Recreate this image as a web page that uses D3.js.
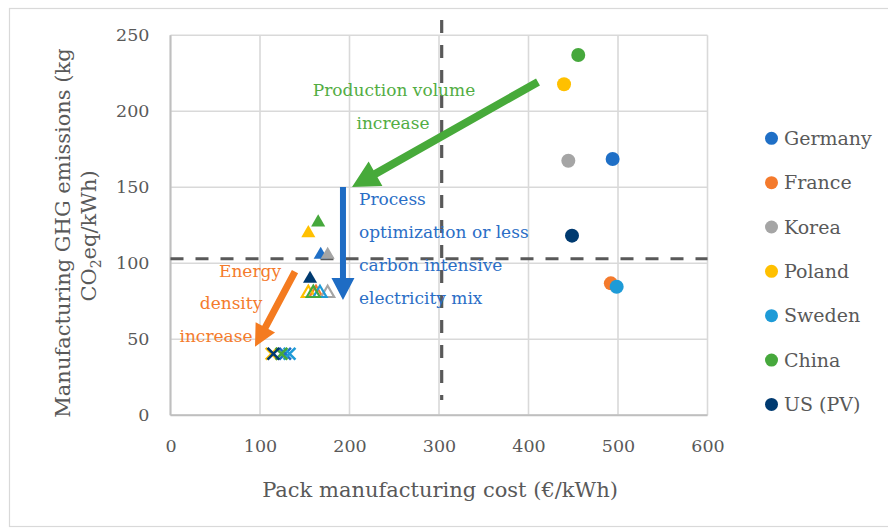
<!DOCTYPE html>
<html>
<head>
<meta charset="utf-8">
<script src="https://cdn.jsdelivr.net/npm/d3@7"></script>
<style>
  html, body { margin: 0; padding: 0; background: #fff; }
  svg { display: block; font-family: "DejaVu Serif", serif; }
</style>
</head>
<body>
<svg id="chart" width="888" height="529"></svg>
<script>
// ---- data ----
const countries = ["Germany", "France", "Korea", "Poland", "Sweden", "China", "US (PV)"];
const countryColors = ["#1f6fc6", "#f47a2c", "#a5a5a5", "#ffc000", "#1e9bd7", "#46a83c", "#003a70"];

// Current pack manufacturing (circles)
const currentCost = [494, 492, 444.5, 439.7, 498.5, 455.6, 448.6];
const currentGhg  = [168.6, 86.8, 167.5, 217.8, 84.6, 237, 118.2];

// Higher production volume (filled triangles)
const volumeCost = [167.8, null, 175.6, 154, null, 165, 155.9];
const volumeGhg  = [105.6, null, 105.6, 119.8, null, 126.9, 89.8];

// Process optimization / cleaner electricity (open triangles)
const processCost = [null, 162.6, 175.6, 154, 167, 159.6, null];
const processGhg  = [null, 80.3, 80.3, 80.3, 80.3, 80.3, null];

// Energy density increase (crosses)
const densityCost = [128, null, null, 113, 133, 124, 115];
const densityGhg  = [40.5, null, null, 40.5, 40.5, 40.5, 40.5];

const xTicks = [0, 100, 200, 300, 400, 500, 600];
const yTicks = [0, 50, 100, 150, 200, 250];

const costThreshold = 303;   // vertical reference line
const ghgThreshold = 103;    // horizontal reference line

// ---- layout ----
const svg = d3.select("#chart");
const x = d3.scaleLinear().domain([0, 600]).range([170.5, 707.5]);
const y = d3.scaleLinear().domain([0, 250]).range([415.3, 35.3]);

const grey = "#595959";

// outer chart frame
svg.append("rect")
  .attr("x", 9.5).attr("y", 8.5).attr("width", 890).attr("height", 518)
  .attr("fill", "#fff").attr("stroke", "#d9d9d9").attr("stroke-width", 1.2);

// gridlines
const grid = svg.append("g");
grid.selectAll("line.v").data(xTicks).join("line")
  .attr("x1", d => x(d)).attr("x2", d => x(d))
  .attr("y1", y(0)).attr("y2", y(250))
  .attr("stroke", "#d9d9d9").attr("stroke-width", 1.6);
grid.selectAll("line.h").data(yTicks).join("line")
  .attr("x1", x(0)).attr("x2", x(600))
  .attr("y1", d => y(d)).attr("y2", d => y(d))
  .attr("stroke", "#d9d9d9").attr("stroke-width", 1.6);

// axis lines
svg.append("line").attr("x1", x(0)).attr("x2", x(0)).attr("y1", y(0)).attr("y2", y(250))
  .attr("stroke", "#bfbfbf").attr("stroke-width", 2);
svg.append("line").attr("x1", x(0)).attr("x2", x(600)).attr("y1", y(0)).attr("y2", y(0))
  .attr("stroke", "#bfbfbf").attr("stroke-width", 2);

// tick labels through d3 axes
const xAxis = svg.append("g").attr("transform", `translate(0,${y(0) + 24})`)
  .call(d3.axisBottom(x).tickValues(xTicks).tickSize(0).tickPadding(0));
const yAxis = svg.append("g").attr("transform", `translate(${x(0) - 21},0)`)
  .call(d3.axisLeft(y).tickValues(yTicks).tickSize(0).tickPadding(0));
[xAxis, yAxis].forEach(a => {
  a.select(".domain").remove();
  a.selectAll("text").attr("fill", grey).style("font-family", "'DejaVu Serif', serif").style("font-size", "17.5px");
});
xAxis.selectAll("text").attr("dy", "0.71em");

// axis titles
svg.append("text")
  .attr("x", 440).attr("y", 497)
  .attr("text-anchor", "middle").attr("fill", grey)
  .style("font-size", "21px")
  .text("Pack manufacturing cost (€/kWh)");

const yTitle = svg.append("text")
  .attr("transform", "rotate(-90)")
  .attr("text-anchor", "middle").attr("fill", grey)
  .style("font-size", "21px");
yTitle.append("tspan").attr("x", -233).attr("y", 70).text("Manufacturing GHG emissions (kg");
const l2 = yTitle.append("tspan").attr("x", -236).attr("y", 96);
l2.append("tspan").text("CO");
l2.append("tspan").attr("dy", 5).style("font-size", "14px").text("2");
l2.append("tspan").attr("dy", -5).text("eq/kWh)");

// reference lines
svg.append("line")
  .attr("x1", x(0)).attr("x2", x(600))
  .attr("y1", y(ghgThreshold)).attr("y2", y(ghgThreshold))
  .attr("stroke", grey).attr("stroke-width", 3.2).attr("stroke-dasharray", "13,12");
svg.append("line")
  .attr("x1", x(costThreshold)).attr("x2", x(costThreshold))
  .attr("y1", y(260)).attr("y2", y(10))
  .attr("stroke", grey).attr("stroke-width", 3.2).attr("stroke-dasharray", "13,12");

// ---- markers ----
const idx = d3.range(countries.length);
const marks = svg.append("g");

marks.selectAll("circle.cur").data(idx).join("circle")
  .attr("cx", i => x(currentCost[i])).attr("cy", i => y(currentGhg[i]))
  .attr("r", 7).attr("fill", i => countryColors[i]);

const tri = d3.symbol().type(d3.symbolTriangle).size(86);
marks.selectAll("path.vol").data(idx.filter(i => volumeCost[i] != null)).join("path")
  .attr("transform", i => `translate(${x(volumeCost[i])},${y(volumeGhg[i])})`)
  .attr("d", tri).attr("fill", i => countryColors[i]);

const triOpen = d3.symbol().type(d3.symbolTriangle).size(74);
marks.selectAll("path.proc").data(idx.filter(i => processCost[i] != null)).join("path")
  .attr("transform", i => `translate(${x(processCost[i])},${y(processGhg[i])})`)
  .attr("d", triOpen).attr("fill", "none")
  .attr("stroke", i => countryColors[i]).attr("stroke-width", 2.2);

const cross = d3.symbol().type(d3.symbolX).size(92);
marks.selectAll("path.dens").data(idx.filter(i => densityCost[i] != null)).join("path")
  .attr("transform", i => `translate(${x(densityCost[i])},${y(densityGhg[i])})`)
  .attr("d", cross).attr("fill", "none")
  .attr("stroke", i => countryColors[i]).attr("stroke-width", 2.6);

// ---- annotation arrows ----
function arrowPath(x1, y1, x2, y2, shaft, headW, headL) {
  const dx = x2 - x1, dy = y2 - y1, len = Math.hypot(dx, dy);
  const ux = dx / len, uy = dy / len, px = -uy, py = ux;
  const bx = x2 - ux * headL, by = y2 - uy * headL;
  const pts = [
    [x1 + px * shaft / 2, y1 + py * shaft / 2],
    [bx + px * shaft / 2, by + py * shaft / 2],
    [bx + px * headW / 2, by + py * headW / 2],
    [x2, y2],
    [bx - px * headW / 2, by - py * headW / 2],
    [bx - px * shaft / 2, by - py * shaft / 2],
    [x1 - px * shaft / 2, y1 - py * shaft / 2]
  ];
  return "M" + pts.map(p => p.join(",")).join("L") + "Z";
}

const green = "#47aa3a", blue = "#1e6cc4", orange = "#f47b20";

svg.append("path")
  .attr("d", arrowPath(x(410.6), y(219.3), x(202.8), y(150.2), 8, 28, 27))
  .attr("fill", green);
svg.append("path")
  .attr("d", arrowPath(x(192.7), y(150.2), x(192.7), y(75.9), 6, 23, 22))
  .attr("fill", blue);
svg.append("path")
  .attr("d", arrowPath(x(139.1), y(94.5), x(94.4), y(45.1), 7, 22, 22))
  .attr("fill", orange);

// ---- annotation text ----
const ann = svg.append("g").style("font-size", "17px");
ann.append("text").attr("x", 394).attr("y", 96).attr("text-anchor", "middle")
  .attr("fill", "#52ad43").text("Production volume");
ann.append("text").attr("x", 393).attr("y", 129).attr("text-anchor", "middle")
  .attr("fill", "#52ad43").text("increase");

const blueLines = ["Process", "optimization or less", "carbon intensive", "electricity mix"];
ann.selectAll("text.blue").data(blueLines).join("text")
  .attr("x", 359).attr("y", (d, i) => 205 + i * 33)
  .attr("fill", "#2a6ec6").text(d => d);

const orangeLines = [["Energy", 250, 277], ["density", 231, 309], ["increase", 216, 342]];
ann.selectAll("text.orange").data(orangeLines).join("text")
  .attr("x", d => d[1]).attr("y", d => d[2]).attr("text-anchor", "middle")
  .attr("fill", "#f47b2c").text(d => d[0]);

// ---- legend ----
const legend = svg.append("g").selectAll("g").data(idx).join("g")
  .attr("transform", i => `translate(771.5,${138.3 + i * 44.35})`);
legend.append("circle").attr("r", 6.5).attr("fill", i => countryColors[i]);
legend.append("text").attr("x", 12.5).attr("dy", "0.35em")
  .attr("fill", grey).style("font-size", "19px").text(i => countries[i]);
</script>
</body>
</html>
